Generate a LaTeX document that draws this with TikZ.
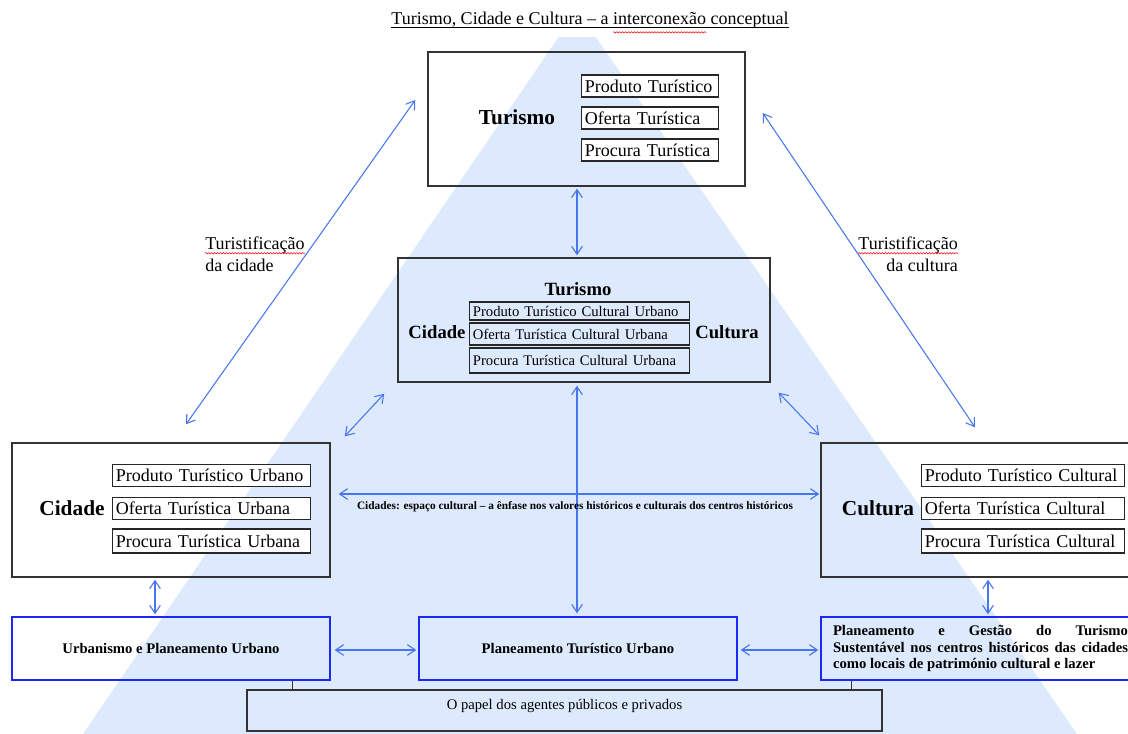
\documentclass[tikz,border=0pt]{standalone}
\usepackage{fontspec}
\setmainfont{Liberation Serif}
\usetikzlibrary{arrows.meta,decorations.pathmorphing}

\definecolor{fundo}{RGB}{221,233,252}
\definecolor{setaazul}{RGB}{72,118,240}
\definecolor{caixaazul}{RGB}{30,40,245}

% palavra sublinhada a vermelho (corrector ortografico)
\newcommand{\sublinha}[2][3pt]{\tikz[baseline=(w.base)]{\node [inner sep=0pt, minimum height=0pt,
    minimum width=0pt, text width={}, fill=none, draw=none] (w) {#2};
  \draw [overlay, red, line width=0.4pt, decorate, decoration={snake, amplitude=0.5pt, segment length=2.2pt}]
    ([yshift=-#1]w.base west) -- ([yshift=-#1]w.base east);}}

\tikzset{
  caixa/.style={draw=black!80, line width=1.1pt, minimum width=#1, minimum height=100.5pt, inner sep=0pt},
  item/.style={draw=black!85, line width=0.9pt, fill=white, anchor=west, inner xsep=2.5pt, inner ysep=0pt,
    text width=#1, minimum height=16.5pt, font=\fontsize{13.5}{16}\selectfont},
  itemc/.style={draw=black!85, line width=0.9pt, anchor=west, inner xsep=2.5pt, inner ysep=0pt,
    text width=160pt, font=\fontsize{11}{13}\selectfont},
  rotulo/.style={inner sep=0pt, font=\bfseries\fontsize{16}{19}\selectfont},
  plano/.style={draw=caixaazul, line width=1.1pt, minimum width=#1, minimum height=47.25pt, inner sep=0pt,
    font=\bfseries\fontsize{11}{12.4}\selectfont},
  nota/.style={inner sep=0pt, font=\fontsize{13.5}{16.5}\selectfont},
  seta/.style={draw=setaazul, line width=0.8pt,
    {Straight Barb[length=6pt,width=8pt]}-{Straight Barb[length=6pt,width=8pt]}},
}

\begin{document}
\begin{tikzpicture}[x=0.75pt, y=-0.75pt]
    \useasboundingbox (0,0) rectangle (1128,734);

    % o triangulo do fundo
    \coordinate (apice) at (577,10);
    \fill [fundo] (apice) -- (1077,734) -- (83,734) -- cycle;

    % titulo
    \node [fill=white, inner xsep=0pt, minimum height=25.5pt, font=\fontsize{13.5}{16}\selectfont] (titulo) at (590,20)
      {Turismo, Cidade e Cultura – a \sublinha[6pt]{interconexão} conceptual};
    \draw [line width=0.6pt] ([yshift=-2.3pt]titulo.base west) -- ([yshift=-2.3pt]titulo.base east);

    % Turismo
    \node [caixa=237.75pt] (turismo) at (586.5,119) {};
    \node [rotulo] (turismoT) at (517,117) {Turismo};
    \node [item=97.75pt] (tprod) at (581,86) {Produto Turístico};
    \node [item=97.75pt] (toferta) at (581,118) {Oferta Turística};
    \node [item=97.75pt] (tprocura) at (581,150) {Procura Turística};

    % o centro: Turismo, Cidade e Cultura
    \node [caixa=279pt, minimum height=93pt] (centro) at (584,320) {};
    \node [rotulo, font=\bfseries\fontsize{14}{17}\selectfont] (centroT) at (578,289) {Turismo};
    \node [rotulo, font=\bfseries\fontsize{14}{17}\selectfont] (centroA) at (437,332) {Cidade};
    \node [rotulo, font=\bfseries\fontsize{14}{17}\selectfont] (centroC) at (727,332) {Cultura};
    \node [itemc, minimum height=13.5pt] (cprod) at (469,311) {Produto Turístico Cultural Urbano};
    \node [itemc, minimum height=16.5pt] (coferta) at (469,334) {Oferta Turística Cultural Urbana};
    \node [itemc, minimum height=18.75pt] (cprocura) at (469,360.5) {Procura Turística Cultural Urbana};

    % Cidade
    \node [caixa=238.5pt] (cidade) at (171,510) {};
    \node [rotulo] (cidadeT) at (72,508) {Cidade};
    \node [item=143.5pt] (aprod) at (112,475.5) {Produto Turístico Urbano};
    \node [item=143.5pt] (aoferta) at (112,508.5) {Oferta Turística Urbana};
    \node [item=143.5pt, minimum height=18pt] (aprocura) at (112,541) {Procura Turística Urbana};

    % Cultura
    \node [caixa=239.25pt] (cultura) at (980.5,510) {};
    \node [rotulo] (culturaT) at (878,508) {Cultura};
    \node [item=147.25pt] (uprod) at (921,475.5) {Produto Turístico Cultural};
    \node [item=147.25pt] (uoferta) at (921,508.5) {Oferta Turística Cultural};
    \node [item=147.25pt, minimum height=18pt] (uprocura) at (921,541) {Procura Turística Cultural};

    % planeamento
    \node [plano=238.5pt] (urbano) at (171,648.5) {Urbanismo e Planeamento Urbano};
    \node [plano=238.5pt] (turistico) at (578,648.5) {Planeamento Turístico Urbano};
    \node [plano=239.25pt, text width=221.25pt, align=justify, inner xsep=9pt] (gestao) at (980.5,648.5)
      {Planeamento e Gestão do Turismo\linebreak Sustentável nos centros históricos das cidades\linebreak
       como locais de património cultural e lazer};

    % agentes
    \node [caixa=476.25pt, minimum height=30.75pt, text depth=9pt, font=\fontsize{11}{13}\selectfont] (papel) at (564.5,710.5)
      {O papel dos agentes públicos e privados};
    \coordinate (pA) at ([shift={(46,0)}]papel.north west);
    \coordinate (pB) at ([shift={(-31,0)}]papel.north east);
    \draw [line width=0.8pt, black!80] (pA) -- (pA |- urbano.south);
    \draw [line width=0.8pt, black!80] (pB) -- (pB |- gestao.south);

    % turistificacao
    \node [nota, align=left, anchor=west] (turcid) at (205,254) {\sublinha{Turistificação}\\da cidade};
    \node [nota, align=right, anchor=east] (turcul) at (958,254) {\sublinha{Turistificação}\\da cultura};

    \draw [seta] ([shift={(15,-18)}]cidade.north) -- ([shift={(-12,-19)}]turismo.west);
    \draw [seta] ([shift={(17,-6)}]turismo.east) -- ([shift={(-5.5,-15)}]cultura.north);

    % setas do centro
    \draw [seta, shorten <=1.5pt, shorten >=1.5pt] (turismo.south -| apice) -- (centro.north -| apice);
    \draw [seta] ([shift={(14,-6)}]cidade.north east) -- ([shift={(-13,11)}]centro.south west);
    \draw [seta] ([shift={(8,10)}]centro.south east) -- ([shift={(-1,-7)}]cultura.north west);
    \draw [seta, shorten <=2.25pt, shorten >=2.25pt] (centro.south -| apice) -- (turistico.north -| apice);
    \draw [seta] ([shift={(8,-16)}]cidade.east) -- ([shift={(-1,-16)}]cultura.west);
    \node [font=\bfseries\fontsize{8.5}{10}\selectfont, inner sep=0pt] (faixa) at (575,507)
      {Cidades: espaço cultural – a ênfase nos valores históricos e culturais dos centros históricos};

    % setas de baixo
    \draw [seta] ([shift={(-16,2)}]cidade.south) -- ([shift={(-16,-2)}]urbano.north);
    \draw [seta] ([shift={(7.5,2)}]cultura.south) -- ([shift={(7.5,-2)}]gestao.north);
    \draw [seta] ([shift={(4,1.5)}]urbano.east) -- ([shift={(-2,1.5)}]turistico.west);
    \draw [seta] ([shift={(3,1.5)}]turistico.east) -- ([shift={(-2,1.5)}]gestao.west);

\end{tikzpicture}
\end{document}
